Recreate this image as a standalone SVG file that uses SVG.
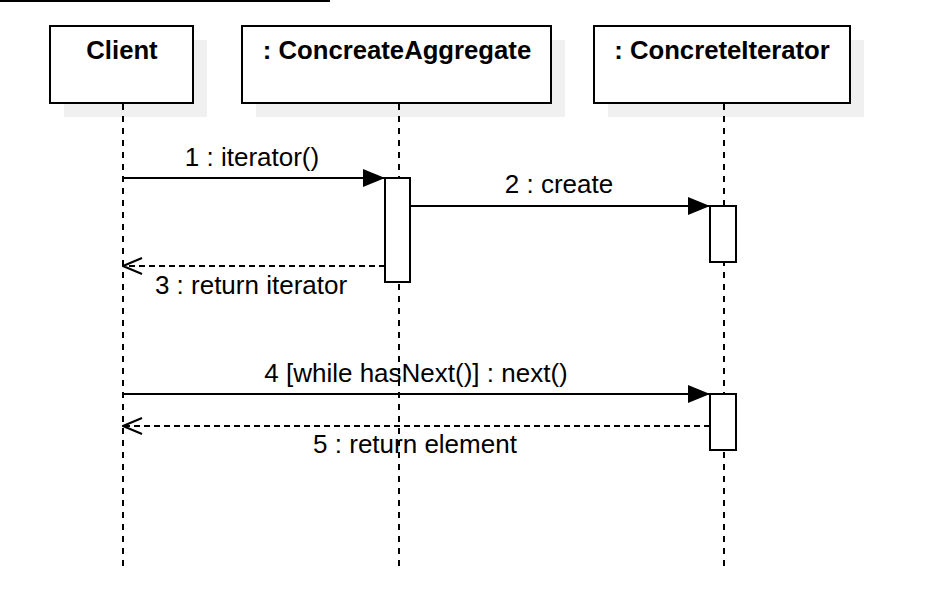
<svg xmlns="http://www.w3.org/2000/svg" width="928" height="600" viewBox="0 0 928 600">
  <defs>
    <marker id="filled" markerWidth="22" markerHeight="18" refX="22" refY="9" orient="auto" markerUnits="userSpaceOnUse">
      <path d="M0,0 L22,9 L0,18 Z" fill="#000"/>
    </marker>
    <marker id="open" markerWidth="22" markerHeight="20" refX="21" refY="10" orient="auto" markerUnits="userSpaceOnUse">
      <path d="M2,2 L21,10 L2,18" fill="none" stroke="#000" stroke-width="2"/>
    </marker>
  </defs>
  <style>
    .shadow { fill: #f0f0f0; stroke: none; }
    .box { fill: #fff; stroke: #000; stroke-width: 2; }
    .title { font-family: "Liberation Sans", Arial, sans-serif; font-size: 25.7px; font-weight: bold; fill: #000; text-anchor: middle; }
    .label { font-family: "Liberation Sans", Arial, sans-serif; font-size: 26px; fill: #000; text-anchor: middle; }
    .life { stroke: #000; stroke-width: 2; stroke-dasharray: 6 6; fill: none; }
    .act { fill: #fff; stroke: #000; stroke-width: 2; }
    .msg { stroke: #000; stroke-width: 2; fill: none; }
    .ret { stroke: #000; stroke-width: 2; fill: none; stroke-dasharray: 6 4; }
  </style>
  <rect width="928" height="600" fill="#fff"/>
  <line x1="0" y1="1" x2="330" y2="1" stroke="#000" stroke-width="2"/>

  <g id="labels">
    <text class="label" x="252" y="166">1 : iterator()</text>
    <text class="label" x="559" y="193">2 : create</text>
    <text class="label" x="251" y="294">3 : return iterator</text>
    <text class="label" x="416" y="382">4 [while hasNext()] : next()</text>
    <text class="label" x="415" y="453">5 : return element</text>
  </g>

  <g id="client">
    <rect class="shadow" x="64" y="40" width="143" height="77"/>
    <rect class="box" x="50" y="26" width="143" height="77"/>
    <text class="title" x="122" y="59">Client</text>
    <line class="life" x1="123" y1="104" x2="123" y2="568"/>
  </g>

  <g id="aggregate">
    <rect class="shadow" x="256" y="40" width="309" height="77"/>
    <rect class="box" x="242" y="26" width="309" height="77"/>
    <text class="title" x="397" y="59">: ConcreateAggregate</text>
    <line class="life" x1="399" y1="104" x2="399" y2="568"/>
    <rect class="act" x="385" y="178" width="25" height="104"/>
  </g>

  <g id="iterator">
    <rect class="shadow" x="608" y="40" width="256" height="77"/>
    <rect class="box" x="594" y="26" width="256" height="77"/>
    <text class="title" x="722" y="59">: ConcreteIterator</text>
    <line class="life" x1="724" y1="104" x2="724" y2="568"/>
    <rect class="act" x="710" y="206" width="26" height="56"/>
    <rect class="act" x="710" y="394" width="26" height="56"/>
  </g>

  <g id="connectors">
    <line class="msg" x1="123" y1="178" x2="385" y2="178" marker-end="url(#filled)"/>
    <line class="msg" x1="410" y1="206" x2="710" y2="206" marker-end="url(#filled)"/>
    <line class="ret" x1="385" y1="266" x2="123" y2="266" marker-end="url(#open)"/>
    <line class="msg" x1="123" y1="394" x2="710" y2="394" marker-end="url(#filled)"/>
    <line class="ret" x1="710" y1="426" x2="123" y2="426" marker-end="url(#open)"/>
  </g>
</svg>
